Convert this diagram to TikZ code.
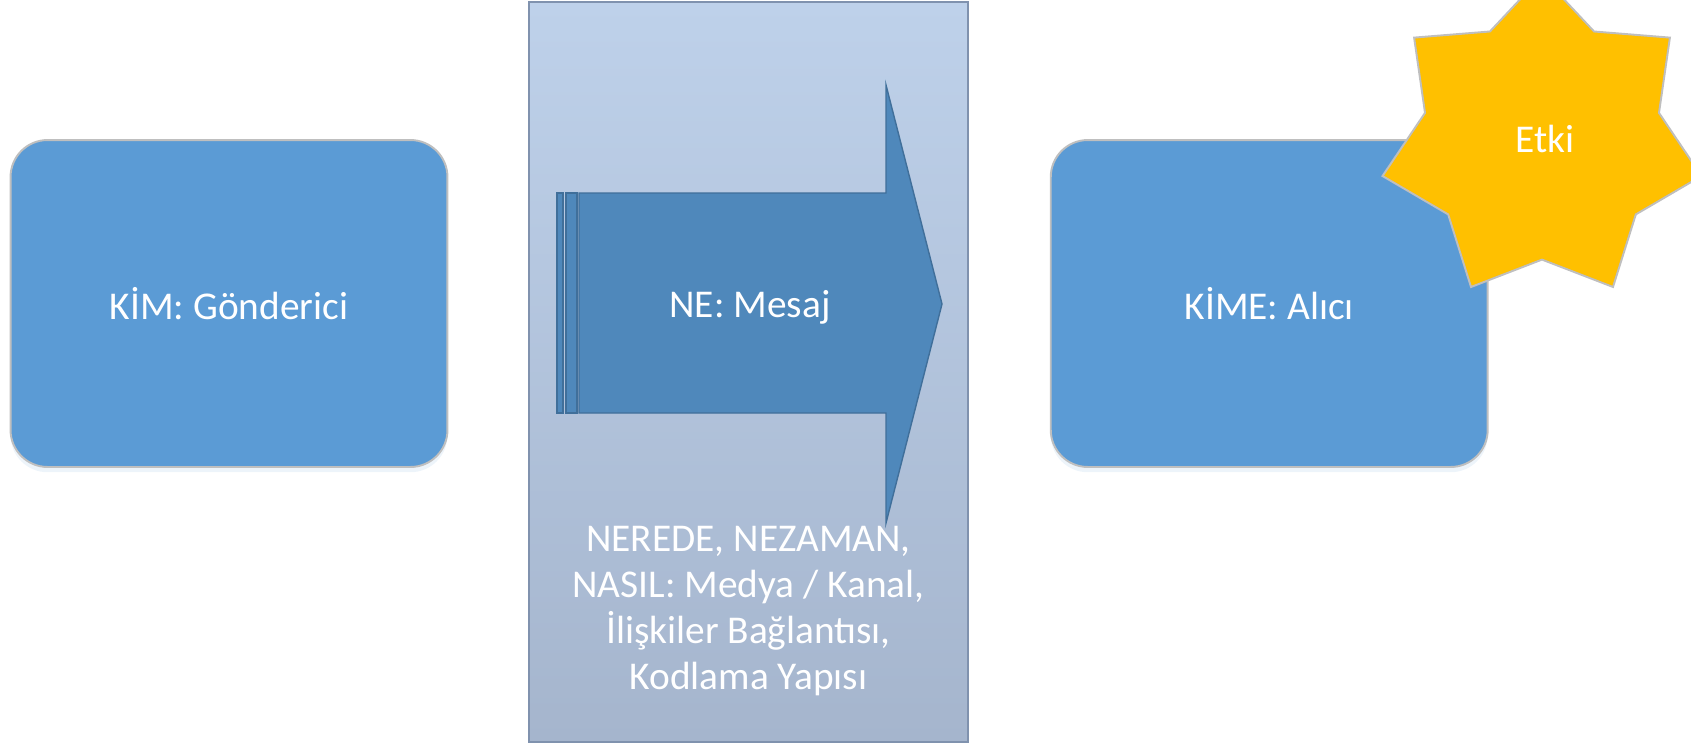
\documentclass[tikz,border=0pt]{standalone}
\usepackage{fontspec}
\setmainfont{Carlito}
\usetikzlibrary{positioning,shadows,calc}

\definecolor{boxblue}{RGB}{91,155,213}
\definecolor{boxline}{RGB}{191,191,191}
\definecolor{paneltop}{RGB}{190,209,234}
\definecolor{panelbot}{RGB}{165,181,205}
\definecolor{panelline}{RGB}{128,146,174}
\definecolor{arrowblue}{RGB}{79,136,187}
\definecolor{arrowline}{RGB}{64,111,154}
\definecolor{etkigold}{RGB}{255,192,0}

\tikzset{
	bigtext/.style={text=white, font=\fontsize{22.4}{26.1}\selectfont},
	actor/.style={bigtext, draw=boxline, line width=1.1pt, fill=boxblue,
		rounded corners=0.74cm, minimum width=8.74cm, minimum height=6.54cm,
		drop shadow={shadow xshift=0pt, shadow yshift=-3pt, opacity=0.18, fill=boxblue!60}},
	panel/.style={draw=panelline, line width=1pt, top color=paneltop, bottom color=panelbot,
		minimum width=8.78cm, minimum height=14.8cm},
	arrowbody/.style={fill=arrowblue, draw=arrowline, line width=0.8pt, line join=miter},
	etkistar/.style={fill=etkigold, draw=boxline, line width=1.1pt, line join=miter},
}

\begin{document}
\begin{tikzpicture}[x=0.02cm, y=-0.02cm]
	\useasboundingbox (0,0) rectangle (1691,744);
	\clip (0,0) rectangle (1691,744);
	
	\node[actor] (kim) at (229,303.5) {KİM: Gönderici};
	\node[actor, right=12.03cm of kim] (kime) {KİME: Alıcı};
	
	\node[panel] (kanal) at (748.5,372) {};
	\node[bigtext, align=center, inner sep=0pt, above=0.94cm of kanal.south] (kanaltext)
		{NEREDE, NEZAMAN,\\NASIL: Medya / Kanal,\\İlişkiler Bağlantısı,\\Kodlama Yapısı};
	
	% striped arrow
	\filldraw[arrowbody] (557,193) rectangle (563,413);
	\filldraw[arrowbody] (566,193) rectangle (577,413);
	\filldraw[arrowbody] (579,193) -- (886,193) -- (886,85) -- (942,304)
		-- (886,523) -- (886,413) -- (579,413) -- cycle;
	\node[bigtext, anchor=base] (mesaj) at (750,317) {NE: Mesaj};
	
	% star
	\coordinate (etkic) at (1542,139.6);
	\filldraw[etkistar] ($(etkic)+(-90:163.6)$)
		\foreach \k in {0,...,6} {
			-- ($(etkic)+(-90+\k*51.4286+25.7143:120)$)
			-- ($(etkic)+(-90+\k*51.4286+51.4286:163.6)$)
		} -- cycle;
	\node[bigtext, anchor=base] (etki) at (1545,152) {Etki};
\end{tikzpicture}
\end{document}
